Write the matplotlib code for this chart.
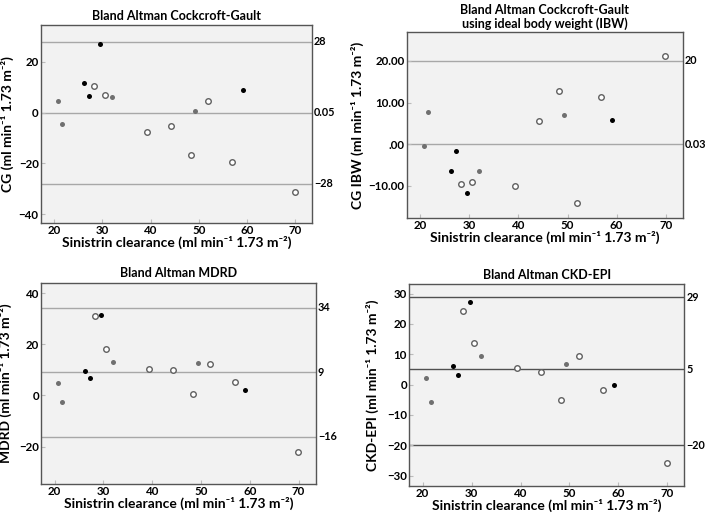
import matplotlib
matplotlib.use("Agg")
import matplotlib.pyplot as plt
from matplotlib.ticker import FuncFormatter

plt.rcParams['font.family'] = ['Lato', 'DejaVu Sans']
plt.rcParams['font.weight'] = 'bold'
plt.rcParams['axes.labelweight'] = 'bold'

# sinistrin clearance of each patient, by marker group
x_grey = [20.7, 21.6, 32.0, 49.3]
x_black = [26.2, 27.2, 29.6, 59.1]
x_open = [28.2, 30.5, 39.3, 44.2, 48.3, 51.9, 56.9, 69.9]

# differences for each method
cg_grey = [4.7, -4.3, 6.2, 0.5]
cg_black = [11.8, 6.7, 27.0, 8.9]
cg_open = [10.6, 6.8, -7.6, -5.4, -16.8, 4.6, -19.3, -31.1]

ibw_grey = [-0.4, 7.7, -6.3, 7.0]
ibw_black = [-6.3, -1.6, -11.6, 5.8]
ibw_open = [-9.5, -9.0, -10.0, 5.5, 12.7, -14.1, 11.3, 21.3]

mdrd_grey = [4.7, -2.5, 13.2, 12.7]
mdrd_black = [9.7, 6.7, 31.6, 2.1]
mdrd_open = [31.2, 18.4, 10.3, 9.8, 0.5, 12.4, 5.1, -22.1]

ckd_grey = [2.3, -5.6, 9.4, 6.9]
ckd_black = [6.1, 3.2, 27.3, -0.1]
ckd_open = [24.3, 13.8, 5.4, 4.2, -5.0, 9.4, -1.9, -25.8]

# bias and limits of agreement (value, label)
cg_lines = [28, 0.05, -28]
cg_labels = ["28", "0.05", "\u221228"]
ibw_lines = [20, 0.03]
ibw_labels = ["20", "0.03"]
mdrd_lines = [34.4, 9, -16.1]
mdrd_labels = ["34", "9", "\u221216"]
ckd_lines = [28.8, 5, -20]
ckd_labels = ["29", "5", "\u221220"]

unit = " (ml min\u207b\u00b9 1.73 m\u207b\u00b2)"
xlab = "Sinistrin clearance" + unit

fig = plt.figure(figsize=(7.08, 5.13), dpi=100)


def panel(rect, title, ylab, grey, black, opn, lines, labels, ylim, yticks,
          ylab_x, line_col="#a8a8a8", fmt=None, tpad=4):
    ax = fig.add_axes(rect)
    ax.set_facecolor("#f2f2f2")
    for s in ax.spines.values():
        s.set_color("#555555")
        s.set_linewidth(1.0)
    for v, lab in zip(lines, labels):
        ax.axhline(v, color=line_col, lw=1.0, zorder=1)
        ax.annotate(lab, xy=(1, v), xycoords=ax.get_yaxis_transform(),
                    xytext=(1.5, 0), textcoords="offset points",
                    va="center", ha="left", fontsize=7.8, fontweight="bold")
    ax.scatter(x_grey, grey, s=13, color="#707070", zorder=3, linewidths=0)
    ax.scatter(x_black, black, s=13, color="black", zorder=3, linewidths=0)
    ax.scatter(x_open, opn, s=16, facecolor="white", edgecolor="#606060",
               linewidth=1.0, zorder=3)
    ax.set_xlim(17.2, 73.5)
    ax.set_ylim(*ylim)
    ax.set_xticks([20, 30, 40, 50, 60, 70])
    ax.set_yticks(yticks)
    if fmt is not None:
        ax.yaxis.set_major_formatter(FuncFormatter(fmt))
    ax.tick_params(labelsize=8.3, length=3, direction="in", color="#bbbbbb",
                   pad=1.5)
    ax.set_title(title, fontsize=9, fontweight="bold", pad=tpad,
                 linespacing=1.1)
    ax.set_xlabel(xlab, fontsize=10, labelpad=0)
    ax.set_ylabel(ylab, fontsize=10)
    ax.yaxis.set_label_coords(ylab_x, 0.5)
    return ax


def ibw_fmt(v, pos):
    s = "%.2f" % v
    if s.startswith("0"):
        s = s[1:]
    return s.replace("-", "\u2212")


panel([0.0575, 0.565, 0.383, 0.386], "Bland Altman Cockcroft-Gault",
      "CG" + unit, cg_grey, cg_black, cg_open, cg_lines, cg_labels,
      (-43.5, 34.5), [-40, -20, 0, 20], -0.10)

panel([0.5744, 0.575, 0.390, 0.363],
      "Bland Altman Cockcroft-Gault\nusing ideal body weight (IBW)",
      "CG IBW" + unit, ibw_grey, ibw_black, ibw_open, ibw_lines, ibw_labels,
      (-17.7, 27.0), [-10, 0, 10, 20], -0.155, fmt=ibw_fmt, tpad=3)

panel([0.0579, 0.057, 0.388, 0.392], "Bland Altman MDRD",
      "MDRD" + unit, mdrd_grey, mdrd_black, mdrd_open, mdrd_lines, mdrd_labels,
      (-34.6, 44.2), [-20, 0, 20, 40], -0.105)

panel([0.5777, 0.0526, 0.389, 0.393], "Bland Altman CKD-EPI",
      "CKD-EPI" + unit, ckd_grey, ckd_black, ckd_open, ckd_lines, ckd_labels,
      (-33.4, 33.0), [-30, -20, -10, 0, 10, 20, 30], -0.108,
      line_col="#505050")

fig.savefig("out.png", dpi=100)
